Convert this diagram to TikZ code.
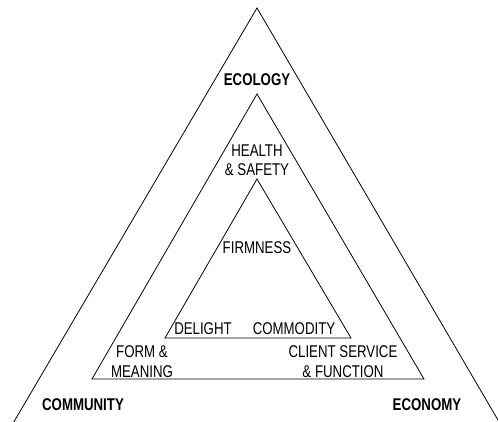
\documentclass[tikz,border=0pt]{standalone}
\usepackage{fontspec}
\setmainfont{Liberation Sans}[FakeStretch=0.78]
\begin{document}
\begin{tikzpicture}[x=1pt,y=-1pt,
  tri/.style={draw=black,line width=0.8pt,line join=miter},
  lbl/.style={font=\fontsize{17}{19.5}\selectfont,inner sep=0pt,align=center},
  blbl/.style={font=\fontsize{17}{19.5}\selectfont\bfseries,inner sep=0pt}]
\useasboundingbox (0,0) rectangle (498,421);
\clip (0,0) rectangle (498,421);
% outer triangle (extends past bottom edge)
\coordinate (oA) at (257,8);
\coordinate (oL) at (8.1,431.7);
\coordinate (oR) at (504.8,431.7);
\draw[tri] (oL) -- (oA) -- (oR);
% middle triangle
\coordinate (mA) at (257,94);
\coordinate (mL) at (92,379);
\coordinate (mR) at (424,379);
\draw[tri] (mA) -- (mL) -- (mR) -- cycle;
% inner triangle
\coordinate (iA) at (257,179);
\coordinate (iL) at (165,338);
\coordinate (iR) at (351,338);
\draw[tri] (iA) -- (iL) -- (iR) -- cycle;
% labels
\node[blbl] (eco) at (257,80) {ECOLOGY};
\node[blbl] (com) at (83,405) {COMMUNITY};
\node[blbl] (econ) at (427,405) {ECONOMY};
\node[lbl] (hs) at (257,160) {HEALTH\\\& SAFETY};
\node[lbl] (firm) at (257,248) {FIRMNESS};
\node[lbl] (del) at (203,329) {DELIGHT};
\node[lbl] (cmd) at (294,329) {COMMODITY};
\node[lbl] (fm) at (142,361.5) {FORM \&\\MEANING};
\node[lbl] (csf) at (343,361.5) {CLIENT SERVICE\\\& FUNCTION};
\end{tikzpicture}
\end{document}
